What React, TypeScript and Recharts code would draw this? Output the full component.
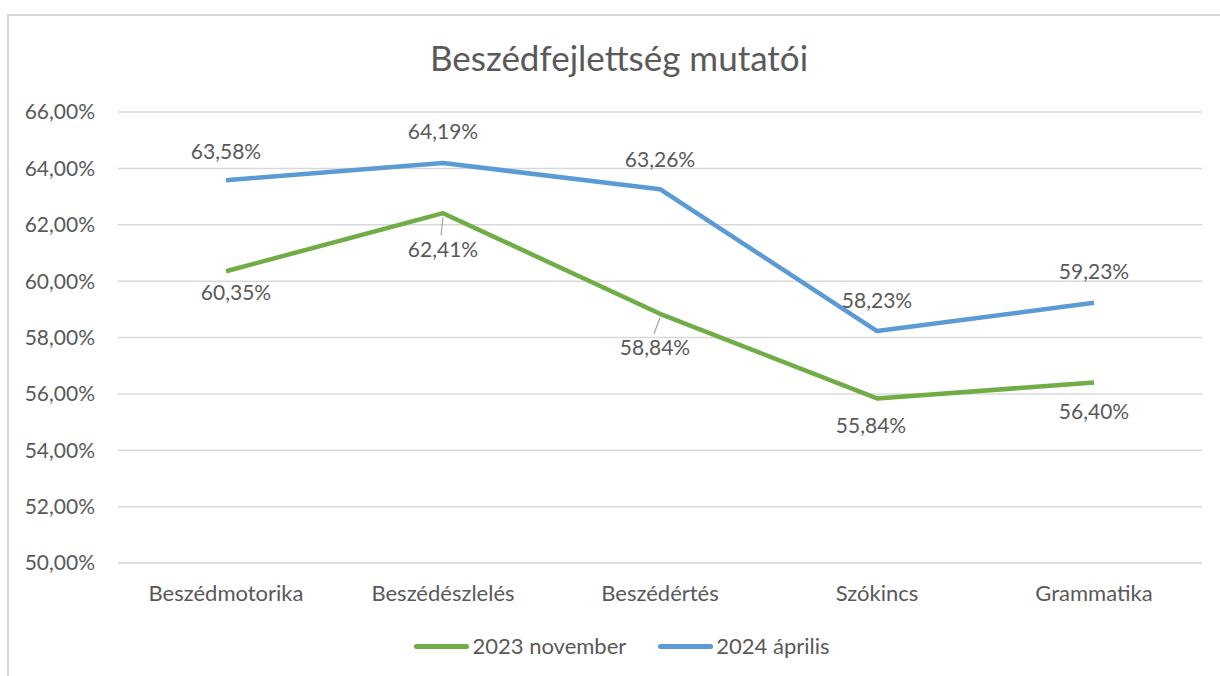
import { LineChart, Line, XAxis, YAxis, CartesianGrid, LabelList } from "recharts";

const categories = ["Beszédmotorika", "Beszédészlelés", "Beszédértés", "Szókincs", "Grammatika"];
const nov2023 = [60.35, 62.41, 58.84, 55.84, 56.4];
const apr2024 = [63.58, 64.19, 63.26, 58.23, 59.23];
const yTicks = [50, 52, 54, 56, 58, 60, 62, 64, 66];

// label nudges (px) relative to each point, as placed in the original
const novLabelDx = [10, 0, -5, -6, 0];
const novLabelDy = [20, 35, 33, 26, 28];
const aprLabelDx = [0, 0, 0, 0, 0];
const aprLabelDy = [-30, -33, -31, -32, -32];

const series = [
  { key: "nov", name: "2023 november", color: "#70AD47", dx: novLabelDx, dy: novLabelDy },
  { key: "apr", name: "2024 április", color: "#5B9BD5", dx: aprLabelDx, dy: aprLabelDy },
];

const data = categories.map((name, i) => ({ name, nov: nov2023[i], apr: apr2024[i] }));

const FONT = "Lato, 'Open Sans', sans-serif";
const TEXT = "#595959";

const pct = (v: number) => v.toFixed(2).replace(".", ",") + "%";

function makeLabel(dxs: number[], dys: number[]) {
  return (props: any) => {
    const { x, y, value, index } = props;
    const dx = dxs[index] ?? 0;
    const dy = dys[index] ?? 0;
    const leader = dy > 30;
    return (
      <g>
        {leader && (
          <line x1={x} y1={y + 4} x2={x + dx * 0.8 - 2} y2={y + dy - 13} stroke="#a6a6a6" strokeWidth={1.2} />
        )}
        <text
          x={x + dx}
          y={y + dy}
          textAnchor="middle"
          dominantBaseline="central"
          fontSize={21}
          fontFamily={FONT}
          fill={TEXT}
        >
          {pct(value)}
        </text>
      </g>
    );
  };
}

export default function App() {
  return (
    <div style={{ position: "fixed", left: 0, top: 0, width: 1220, height: 676, background: "#fff", overflow: "hidden" }}>
      <div
        style={{
          position: "absolute",
          left: 7,
          top: 14,
          width: 1240,
          height: 700,
          borderLeft: "2px solid #d9d9d9",
          borderTop: "2px solid #d9d9d9",
        }}
      />
      <div
        style={{
          position: "absolute",
          left: 319,
          top: 35,
          width: 600,
          textAlign: "center",
          fontFamily: FONT,
          fontSize: 35,
          color: TEXT,
          lineHeight: "44px",
        }}
      >
        Beszédfejlettség mutatói
      </div>
      <div style={{ position: "absolute", left: 0, top: 0 }}>
        <LineChart width={1220} height={676} data={data} margin={{ top: 112, right: 18, bottom: 63, left: 0 }}>
          <CartesianGrid vertical={false} stroke="#d9d9d9" strokeWidth={1.5} />
          <XAxis
            dataKey="name"
            height={50}
            padding={{ left: 108, right: 108 }}
            axisLine={{ stroke: "#d9d9d9", strokeWidth: 1.5 }}
            tickLine={false}
            tickMargin={16}
            tick={{ fontSize: 22, fill: TEXT, fontFamily: FONT }}
          />
          <YAxis
            domain={[50, 66]}
            ticks={yTicks}
            width={118}
            axisLine={false}
            tickLine={false}
            tickMargin={17}
            tickFormatter={pct}
            tick={{ fontSize: 21, fill: TEXT, fontFamily: FONT }}
          />
          {series.map((s) => (
            <Line
              key={s.key}
              dataKey={s.key}
              name={s.name}
              stroke={s.color}
              strokeWidth={4.5}
              dot={false}
              activeDot={false}
              isAnimationActive={false}
              strokeLinejoin="round"
            >
              <LabelList dataKey={s.key} content={makeLabel(s.dx, s.dy)} />
            </Line>
          ))}
        </LineChart>
      </div>
      <div
        style={{
          position: "absolute",
          left: 0,
          top: 632,
          width: 1244,
          display: "flex",
          justifyContent: "center",
          gap: 32,
          fontFamily: FONT,
          fontSize: 22,
          color: TEXT,
          lineHeight: "28px",
        }}
      >
        {series.map((s) => (
          <div key={s.key} style={{ display: "flex", alignItems: "center" }}>
            <span
              style={{ display: "inline-block", width: 55, height: 5, borderRadius: 3, background: s.color, marginRight: 3 }}
            />
            {s.name}
          </div>
        ))}
      </div>
    </div>
  );
}
